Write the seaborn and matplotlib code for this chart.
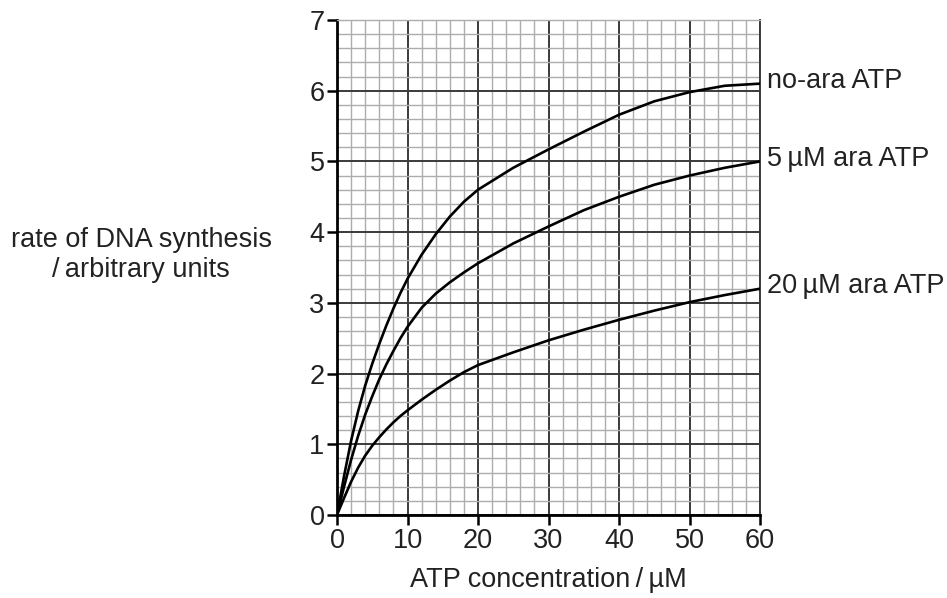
import matplotlib
matplotlib.use("Agg")
import matplotlib.pyplot as plt
import seaborn as sns
import pandas as pd
from matplotlib.ticker import MultipleLocator

sns.set_theme(style="white")
plt.rcParams['font.family'] = ['Liberation Sans', 'DejaVu Sans']

atp = [0, 1, 2, 3, 4, 5, 6, 7, 8, 9, 10, 12, 14, 16, 18, 20, 25, 30, 35, 40, 45, 50, 55, 60]
no_ara = [0, 0.55, 1.05, 1.47, 1.83, 2.14, 2.42, 2.68, 2.92, 3.14, 3.34, 3.68, 3.97, 4.22, 4.43, 4.6,
          4.91, 5.17, 5.42, 5.66, 5.85, 5.98, 6.07, 6.1]
ara_5 = [0, 0.4, 0.78, 1.12, 1.42, 1.68, 1.92, 2.13, 2.32, 2.5, 2.66, 2.93, 3.13, 3.29, 3.43, 3.56,
         3.84, 4.08, 4.31, 4.5, 4.67, 4.8, 4.91, 5.0]
ara_20 = [0, 0.24, 0.47, 0.67, 0.84, 0.98, 1.1, 1.21, 1.31, 1.4, 1.48, 1.63, 1.77, 1.9, 2.02, 2.12,
          2.3, 2.47, 2.62, 2.76, 2.89, 3.01, 3.11, 3.2]
series_names = ["no-ara ATP", "5\u2009µM ara ATP", "20\u2009µM ara ATP"]
x_ticks = [0, 10, 20, 30, 40, 50, 60]
y_ticks = [0, 1, 2, 3, 4, 5, 6, 7]

df = pd.concat([
    pd.DataFrame({"atp": atp, "rate": vals, "series": name})
    for name, vals in zip(series_names, [no_ara, ara_5, ara_20])
])

FS = 19.5
TXT = "#222222"

fig = plt.figure(figsize=(9.47, 5.98), dpi=100)
ax = fig.add_axes([337/947, 1-515/598, (760-337)/947, (515-20)/598])

ax.set_xlim(0, 60)
ax.set_ylim(0, 7)
ax.xaxis.set_major_locator(MultipleLocator(10))
ax.xaxis.set_minor_locator(MultipleLocator(2))
ax.yaxis.set_major_locator(MultipleLocator(1))
ax.yaxis.set_minor_locator(MultipleLocator(0.2))
ax.grid(which="minor", color="#adadad", linewidth=1.0, zorder=0)
ax.grid(which="major", color="#3a3a3a", linewidth=1.4, zorder=1)
ax.set_axisbelow(True)

sns.lineplot(data=df, x="atp", y="rate", hue="series", ax=ax,
             palette=["black"] * 3, linewidth=1.9, legend=False, zorder=3)
for ln in ax.lines:
    ln.set_solid_joinstyle("round")

ax.set_xticks(x_ticks)
ax.set_yticks(y_ticks)
ax.tick_params(axis="both", which="major", direction="out", length=7, width=1.8,
               color="black", labelsize=FS, labelcolor=TXT, pad=2,
               bottom=True, left=True)
ax.tick_params(which="minor", length=0)

for s in ["left", "bottom"]:
    ax.spines[s].set_color("black")
    ax.spines[s].set_linewidth(2.0)
ax.spines["right"].set_color("#3a3a3a")
ax.spines["right"].set_linewidth(1.4)
ax.spines["top"].set_color("#adadad")
ax.spines["top"].set_linewidth(1.0)

ax.set_xlabel("ATP concentration\u2009/\u2009µM", fontsize=FS, color=TXT, labelpad=10)
ax.set_ylabel("")

fig.text(141/947, 1-240/598, "rate of DNA synthesis", fontsize=FS, color=TXT,
         ha="center", va="center")
fig.text(141/947, 1-270/598, "/\u2009arbitrary units", fontsize=FS, color=TXT,
         ha="center", va="center")

for name, vals in zip(series_names, [no_ara, ara_5, ara_20]):
    ax.annotate(name, xy=(60, vals[-1]), xytext=(5, 2), textcoords="offset points",
                fontsize=FS, color=TXT, ha="left", va="center",
                annotation_clip=False)

fig.savefig("out.png", dpi=100)
